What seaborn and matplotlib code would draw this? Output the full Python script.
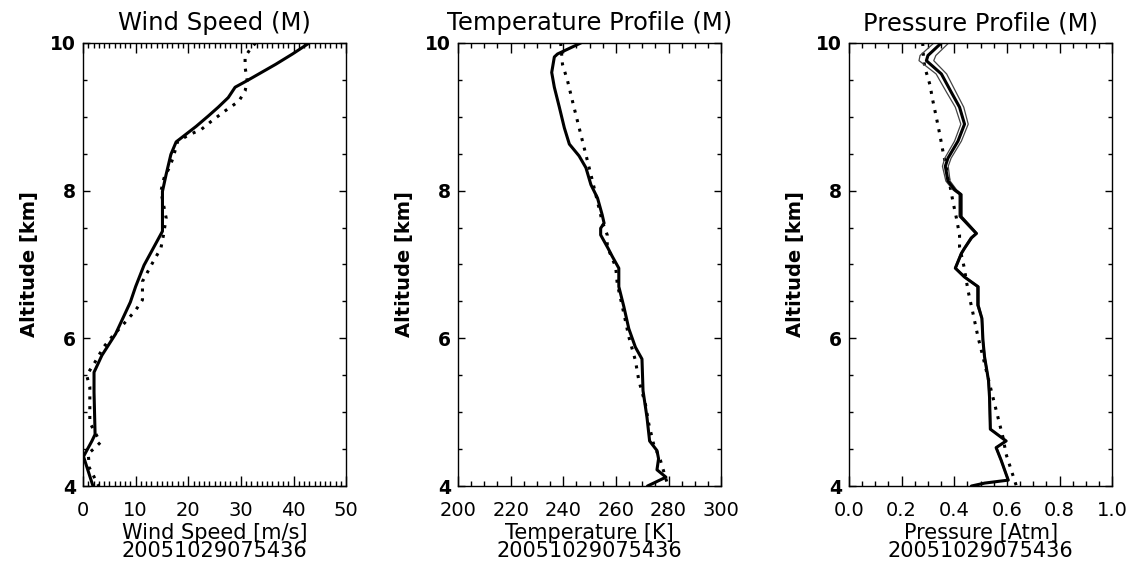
import numpy as np
import pandas as pd
import matplotlib
matplotlib.use("Agg")
from matplotlib import pyplot as plt
from matplotlib.ticker import MultipleLocator
import seaborn as sns

stamp = "20051029075436"

# wind speed, measured (solid) and model (dotted)
wind_alt = [10.0, 9.85, 9.71, 9.49, 9.40, 9.26, 9.13, 9.01, 8.87, 8.66, 8.49, 8.22, 7.99, 7.45,
            7.20, 6.99, 6.70, 6.49, 6.06, 5.77, 5.54, 5.27, 4.70, 4.61, 4.40, 4.20, 4.0]
wind_obs = [43.0, 39.8, 36.6, 31.2, 28.9, 27.6, 25.7, 23.8, 21.5, 17.7, 16.7, 15.8, 15.1, 15.1,
            13.2, 11.6, 10.0, 9.0, 6.2, 3.6, 2.1, 2.1, 2.3, 1.7, 0.1, 1.0, 1.9]
wind_mod_alt = [10.0, 9.92, 9.81, 9.67, 9.49, 9.35, 9.21, 9.08, 8.94, 8.83, 8.76, 8.67, 8.44,
                8.31, 8.17, 7.99, 7.63, 7.40, 7.22, 7.02, 6.77, 6.52, 6.38, 6.20, 6.02, 5.88,
                5.68, 5.50, 5.34, 5.09, 4.86, 4.59, 4.50, 4.44, 4.25, 4.0]
wind_mod = [32.8, 31.8, 30.8, 30.8, 31.2, 30.8, 29.6, 27.0, 24.4, 22.5, 20.3, 18.0, 17.1,
            16.4, 15.4, 14.8, 15.8, 15.3, 14.8, 13.2, 11.3, 11.3, 10.0, 7.8, 5.5, 3.9,
            2.3, 0.7, 1.3, 1.3, 1.3, 3.3, 2.0, 1.0, 1.2, 3.0]

# temperature
temp_alt = [10.0, 9.85, 9.81, 9.60, 9.40, 9.13, 8.85, 8.63, 8.47, 8.31, 8.08, 7.90, 7.67,
            7.56, 7.49, 7.40, 7.22, 7.11, 6.95, 6.70, 6.43, 6.13, 5.88, 5.72, 5.29, 4.93,
            4.61, 4.48, 4.37, 4.22, 4.12, 4.0]
temp_obs = [246.7, 237.8, 236.6, 235.6, 236.6, 238.5, 240.4, 242.3, 246.0, 248.6, 250.5,
            253.0, 254.8, 255.5, 254.2, 254.2, 257.0, 258.6, 261.1, 261.1, 263.0, 264.9,
            267.4, 269.9, 270.3, 271.8, 272.8, 275.6, 276.2, 275.6, 279.0, 272.0]
temp_mod_alt = [10.0, 9.71, 9.49, 9.21, 8.94, 8.67, 8.40, 8.13, 7.85, 7.58, 7.40, 7.24,
                6.97, 6.74, 6.34, 6.02, 5.70, 5.43, 5.11, 4.84, 4.57, 4.35, 4.0]
temp_mod = [239.0, 239.7, 241.6, 243.5, 245.4, 247.3, 249.2, 251.1, 253.0, 254.8, 256.7,
            256.7, 259.9, 260.5, 263.0, 264.9, 267.4, 268.7, 271.2, 272.5, 274.3, 276.9, 279.8]

# pressure with spread
pres_alt = [10.0, 9.83, 9.76, 9.58, 9.33, 9.13, 8.90, 8.67, 8.44, 8.33, 8.13, 8.01, 7.95,
            7.65, 7.42, 7.36, 7.22, 7.15, 6.95, 6.83, 6.70, 6.45, 6.27, 5.97, 5.75, 5.43,
            5.20, 4.77, 4.61, 4.52, 4.35, 4.08, 4.04, 4.0]
pres_obs = [0.351, 0.300, 0.294, 0.351, 0.389, 0.420, 0.439, 0.414, 0.376, 0.366, 0.376,
            0.402, 0.424, 0.424, 0.484, 0.465, 0.439, 0.427, 0.404, 0.439, 0.490, 0.490,
            0.505, 0.509, 0.515, 0.530, 0.534, 0.537, 0.597, 0.559, 0.578, 0.605, 0.516, 0.465]
pres_spread = [0.028, 0.030, 0.028, 0.020, 0.018, 0.016, 0.014, 0.013, 0.012, 0.011, 0.008,
               0.007, 0.006, 0.006, 0.004, 0.004, 0.003, 0.003, 0.003, 0.004, 0.004, 0.004,
               0.002, 0.002, 0.002, 0.002, 0.002, 0.002, 0.002, 0.002, 0.002, 0.002, 0.002, 0.002]
pres_mod_alt = [10.0, 9.8, 9.67, 9.44, 9.21, 8.99, 8.76, 8.53, 8.31, 8.08, 7.85, 7.63, 7.40,
                7.24, 6.97, 6.65, 6.34, 6.02, 5.75, 5.47, 5.20, 4.93, 4.66, 4.43, 4.0]
pres_mod = [0.280, 0.283, 0.288, 0.307, 0.319, 0.332, 0.345, 0.357, 0.370, 0.383, 0.395,
            0.408, 0.420, 0.420, 0.437, 0.452, 0.471, 0.490, 0.509, 0.528, 0.547, 0.566,
            0.585, 0.597, 0.636]

sns.set_style("ticks")
plt.rcParams["font.family"] = ["DejaVu Sans"]
for k in ["text.color", "axes.labelcolor", "xtick.color", "ytick.color", "axes.edgecolor"]:
    plt.rcParams[k] = "black"

fig = plt.figure(figsize=(11.32, 5.67), dpi=100)
lefts = [0.0733, 0.4046, 0.750]
axes = [fig.add_axes([l, 0.1428, 0.2325, 0.7815]) for l in lefts]

dot = dict(color="black", linestyle=(0, (1, 2.2)), linewidth=2.2, sort=False, estimator=None)
solid = dict(color="black", linewidth=2.2, sort=False, estimator=None)
thin = dict(color="#444444", linewidth=0.9, sort=False, estimator=None)

ax = axes[0]
sns.lineplot(x=wind_mod, y=wind_mod_alt, ax=ax, **dot)
sns.lineplot(x=wind_obs, y=wind_alt, ax=ax, **solid)

ax = axes[1]
sns.lineplot(x=temp_mod, y=temp_mod_alt, ax=ax, **dot)
sns.lineplot(x=temp_obs, y=temp_alt, ax=ax, **solid)

ax = axes[2]
p = np.array(pres_obs)
s = np.array(pres_spread)
sns.lineplot(x=pres_mod, y=pres_mod_alt, ax=ax, **dot)
sns.lineplot(x=p - s, y=pres_alt, ax=ax, **thin)
sns.lineplot(x=p + s, y=pres_alt, ax=ax, **thin)
sns.lineplot(x=pres_obs, y=pres_alt, ax=ax, **solid)

titles = ["Wind Speed (M)", "Temperature Profile (M)", "Pressure Profile (M)"]
xlabels = ["Wind Speed [m/s]", "Temperature [K]", "Pressure [Atm]"]
xlims = [(0, 50), (200, 300), (0.0, 1.0)]
majors = [10, 20, 0.2]
minors = [1, 5, 0.05]
fmts = ["{:.0f}", "{:.0f}", "{:.1f}"]

for ax, t, xl, lim, mj, mn, f in zip(axes, titles, xlabels, xlims, majors, minors, fmts):
    ax.set_xlim(*lim)
    ax.set_ylim(4, 10)
    ax.xaxis.set_minor_locator(MultipleLocator(mn))
    ax.yaxis.set_minor_locator(MultipleLocator(0.5))
    ticks = np.arange(lim[0], lim[1] + mj / 2, mj)
    ax.set_xticks(ticks)
    ax.set_xticklabels([f.format(v) for v in ticks], fontsize=14)
    ax.set_yticks([4, 6, 8, 10])
    ax.set_yticklabels(["4", "6", "8", "10"], fontsize=13.5, fontweight="bold")
    ax.tick_params(which="both", direction="in", top=True, right=True, width=1.0)
    ax.tick_params(axis="x", which="major", length=7, pad=11)
    ax.tick_params(axis="x", which="minor", length=3.5)
    ax.tick_params(axis="y", which="major", length=5, pad=5)
    ax.tick_params(axis="y", which="minor", length=3)
    for sp in ax.spines.values():
        sp.set_linewidth(1.0)
    ax.set_title(t, fontsize=17.5, pad=9)
    ax.set_xlabel(xl + "\n" + stamp, fontsize=15, linespacing=0.9, labelpad=2)
    ax.set_ylabel("Altitude [km]", fontsize=14, fontweight="bold", labelpad=8)

fig.savefig("out.png", dpi=100)
